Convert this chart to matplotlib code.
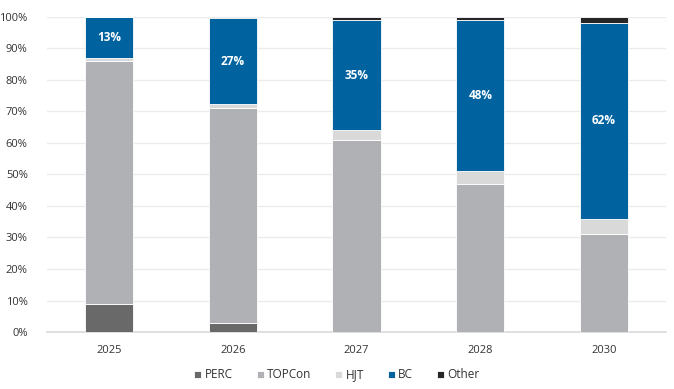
import numpy as np
import matplotlib.pyplot as plt

plt.rcParams['font.family'] = ['Open Sans', 'DejaVu Sans']

# Data (share of cell technology, %)
years = ['2025', '2026', '2027', '2028', '2030']
perc = [9, 3, 0, 0, 0]
topcon = [77, 68, 61, 47, 31]
hjt = [1, 1.5, 3, 4, 5]
bc = [13, 27, 35, 48, 62]
other = [0, 0.5, 1, 1, 2]
bc_labels = ['13%', '27%', '35%', '48%', '62%']

series = [('PERC', perc, '#696969'),
          ('TOPCon', topcon, '#b0b1b4'),
          ('HJT', hjt, '#d9d9d9'),
          ('BC', bc, '#0063a0'),
          ('Other', other, '#262626')]

fig = plt.figure(figsize=(6.74, 3.89), dpi=100)
ax = fig.add_axes([0.07, 0.1465, 0.918, 0.81])

x = np.arange(len(years))
bottom = np.zeros(len(years))
for name, vals, color in series:
    vals = np.array(vals, dtype=float)
    ax.bar(x, vals, width=0.39, bottom=bottom, color=color,
           edgecolor='white', linewidth=0.6, label=name, zorder=3)
    if name == 'BC':
        for xi, b, v, lab in zip(x, bottom, vals, bc_labels):
            ax.text(xi, b + v / 2, lab, ha='center', va='center',
                    color='white', fontsize=8.5, fontweight='bold', zorder=4)
    bottom += vals

ax.set_xlim(-0.5, len(years) - 0.5)
ax.set_ylim(0, 100)
ax.set_yticks(np.arange(0, 101, 10))
ax.set_yticklabels([f'{v}%' for v in range(0, 101, 10)])
ax.set_xticks(x)
ax.set_xticklabels(years)
ax.yaxis.grid(True, color='#ebebeb', linewidth=1, zorder=0)
ax.tick_params(axis='both', length=0, labelsize=8, labelcolor='#333333')
ax.tick_params(axis='y', pad=14)
ax.tick_params(axis='x', pad=9)
for s in ['top', 'right', 'left']:
    ax.spines[s].set_visible(False)
ax.spines['bottom'].set_color('#d9d9d9')
ax.spines['bottom'].set_linewidth(1.2)

fig.legend(loc='center', bbox_to_anchor=(0.5, 1 - 375 / 389), ncol=5,
           frameon=False, fontsize=8.5, handlelength=0.6, handleheight=0.6,
           handletextpad=0.3, columnspacing=2.0, labelcolor='#333333')

fig.savefig('out.png', dpi=100)
